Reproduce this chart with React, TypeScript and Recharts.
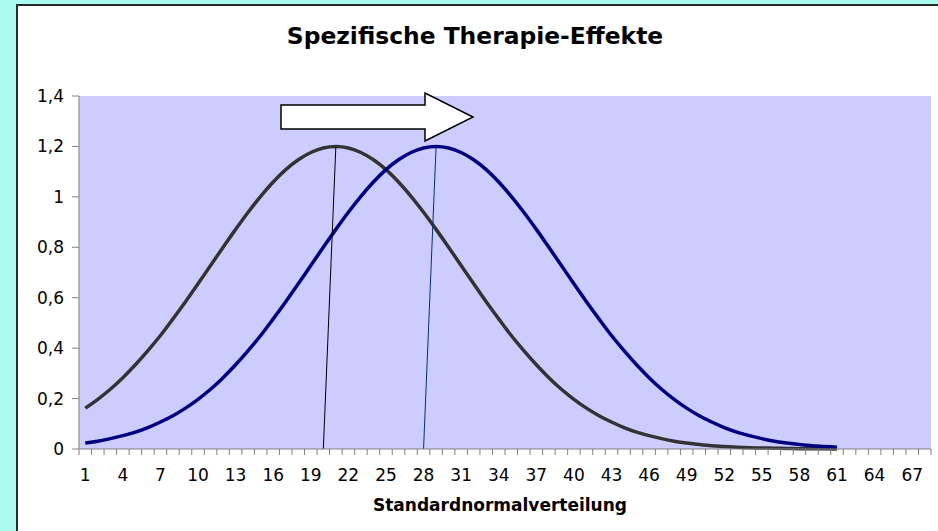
import { CartesianGrid, Line, LineChart, XAxis, YAxis } from "recharts";

const FONT = "Verdana, 'DejaVu Sans', sans-serif";

// x categories 1..68 (Excel-style category axis)
const categories = Array.from({ length: 68 }, (_, i) => i + 1);

// values, x = 1..61
const grayCurve = [
	0.162, 0.197, 0.237, 0.283, 0.334, 0.39, 0.45, 0.516, 0.584, 0.655, 0.728, 0.8, 0.871, 0.939, 1.002,
	1.059, 1.108, 1.147, 1.176, 1.194, 1.2, 1.194, 1.176, 1.147, 1.108, 1.059, 1.002, 0.939, 0.871, 0.8,
	0.728, 0.655, 0.584, 0.516, 0.45, 0.39, 0.334, 0.283, 0.237, 0.197, 0.162, 0.132, 0.107, 0.085, 0.067,
	0.053, 0.041, 0.031, 0.024, 0.018, 0.013, 0.01, 0.007, 0.005, 0.004, 0.003, 0.002, 0.001, 0.001, 0.001,
	0.0,
];
const blueCurve = [
	0.024, 0.031, 0.041, 0.053, 0.067, 0.085, 0.107, 0.132, 0.162, 0.197, 0.237, 0.283, 0.334, 0.39, 0.45,
	0.516, 0.584, 0.655, 0.728, 0.8, 0.871, 0.939, 1.002, 1.059, 1.108, 1.147, 1.176, 1.194, 1.2, 1.194,
	1.176, 1.147, 1.108, 1.059, 1.002, 0.939, 0.871, 0.8, 0.728, 0.655, 0.584, 0.516, 0.45, 0.39, 0.334,
	0.283, 0.237, 0.197, 0.162, 0.132, 0.107, 0.085, 0.067, 0.053, 0.041, 0.031, 0.024, 0.018, 0.013, 0.01,
	0.007,
];

// thin lines up to each peak
const peakLineAX = [20, 21];
const peakLineAY = [0, 1.2];
const peakLineBX = [28, 29];
const peakLineBY = [0, 1.2];

const yTicks = [0, 0.2, 0.4, 0.6, 0.8, 1, 1.2, 1.4];
const xLabelTicks = [1, 4, 7, 10, 13, 16, 19, 22, 25, 28, 31, 34, 37, 40, 43, 46, 49, 52, 55, 58, 61, 64, 67];

const chartData = categories.map((x, i) => ({
	x,
	gray: grayCurve[i],
	blue: blueCurve[i],
	peakA: peakLineAY[peakLineAX.indexOf(x)],
	peakB: peakLineBY[peakLineBX.indexOf(x)],
}));

// tick marks sit between categories, labels on every third category
const xTicks = [0.5, ...categories.flatMap((c) => [c, c + 0.5])];

function XTick({ x, y, payload }: any) {
	const v = payload.value as number;
	if (v % 1 !== 0) {
		return <line x1={x} x2={x} y1={y} y2={y + 6} stroke="#808080" />;
	}
	if (!xLabelTicks.includes(v)) return <g />;
	return (
		<text x={x} y={y + 32} textAnchor="middle" fontSize={17} fontFamily={FONT} fill="#000">
			{v}
		</text>
	);
}

export default function App() {
	return (
		<div
			style={{
				position: "absolute",
				left: 0,
				top: 0,
				width: 938,
				height: 531,
				overflow: "hidden",
				background: "#abfcec",
			}}
		>
			<div
				style={{
					position: "absolute",
					left: 16,
					top: 4,
					width: 940,
					height: 540,
					background: "#fff",
					border: "2px solid #2a2a2a",
				}}
			/>
			<div style={{ position: "absolute", left: 0, top: 0 }}>
				<LineChart
					width={938}
					height={531}
					data={chartData}
					margin={{ top: 96, right: 7, left: 19, bottom: 42 }}
				>
					<CartesianGrid fill="#ccccff" stroke="none" horizontal={false} vertical={false} />
					<XAxis
						dataKey="x"
						type="number"
						domain={[0.5, 68.5]}
						ticks={xTicks}
						interval={0}
						height={40}
						tickSize={0}
						tickMargin={0}
						tickLine={false}
						tick={<XTick />}
						stroke="#808080"
					/>
					<YAxis
						type="number"
						domain={[0, 1.4]}
						ticks={yTicks}
						interval={0}
						width={60}
						tickSize={7}
						tickMargin={8}
						stroke="#808080"
						tick={{ fill: "#000", fontSize: 17, fontFamily: FONT }}
						tickFormatter={(v: number) => String(v).replace(".", ",")}
					/>
					<Line
						type="monotone"
						dataKey="gray"
						stroke="#333333"
						strokeWidth={3.5}
						dot={false}
						activeDot={false}
						isAnimationActive={false}
					/>
					<Line
						type="monotone"
						dataKey="blue"
						stroke="#000080"
						strokeWidth={3.5}
						dot={false}
						activeDot={false}
						isAnimationActive={false}
					/>
					<Line
						type="linear"
						dataKey="peakA"
						stroke="#000000"
						strokeWidth={1}
						dot={false}
						activeDot={false}
						isAnimationActive={false}
					/>
					<Line
						type="linear"
						dataKey="peakB"
						stroke="#003366"
						strokeWidth={1}
						dot={false}
						activeDot={false}
						isAnimationActive={false}
					/>
				</LineChart>
			</div>
			<svg
				width={938}
				height={531}
				style={{ position: "absolute", left: 0, top: 0, pointerEvents: "none" }}
			>
				<text x={475} y={44} textAnchor="middle" fontSize={23.4} fontWeight="bold" fontFamily={FONT}>
					Spezifische Therapie-Effekte
				</text>
				<text x={500} y={511} textAnchor="middle" fontSize={17} fontWeight="bold" fontFamily={FONT}>
					Standardnormalverteilung
				</text>
				<polygon
					points="281,105 425,105 425,93 473,117 425,141 425,129 281,129"
					fill="#fff"
					stroke="#000"
					strokeWidth={1.5}
				/>
			</svg>
		</div>
	);
}
